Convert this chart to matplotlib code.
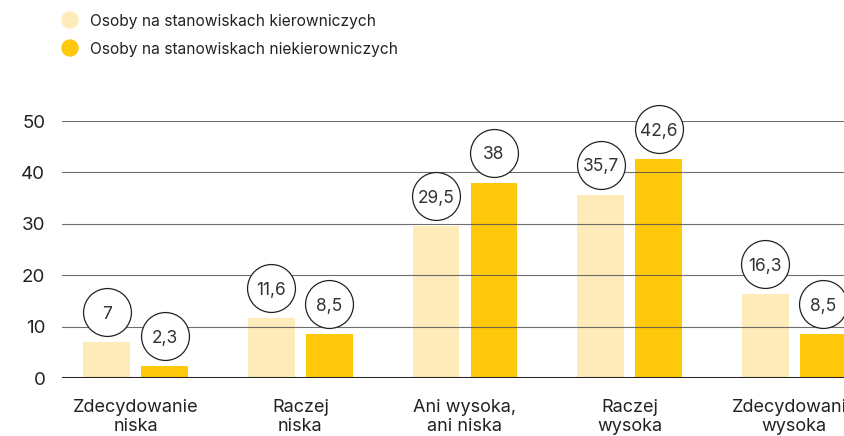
import matplotlib
matplotlib.use("Agg")
import matplotlib.pyplot as plt
from matplotlib.transforms import ScaledTranslation
import numpy as np

plt.rcParams['font.family'] = ['Inter', 'DejaVu Sans']

categories = ["Zdecydowanie\nniska", "Raczej\nniska", "Ani wysoka,\nani niska", "Raczej\nwysoka", "Zdecydowanie\nwysoka"]
series_names = ["Osoby na stanowiskach kierowniczych", "Osoby na stanowiskach niekierowniczych"]
kier = [7, 11.6, 29.5, 35.7, 16.3]
niekier = [2.3, 8.5, 38, 42.6, 8.5]
labels_kier = ["7", "11,6", "29,5", "35,7", "16,3"]
labels_niekier = ["2,3", "8,5", "38", "42,6", "8,5"]
yticks = [0, 10, 20, 30, 40, 50]

c_light = "#FDEBBA"
c_dark = "#FFC80A"

W, H = 845, 436
fig = plt.figure(figsize=(W/100, H/100), dpi=100)
left_px, right_px = 62, 868
bottom_px, top_px = 378, 121
ax = fig.add_axes([left_px/W, (H-bottom_px)/H, (right_px-left_px)/W, (bottom_px-top_px)/H])
ax.set_xlim(-0.448, 4 + 0.448)
ax.set_ylim(0, 50)

x = np.arange(len(categories))
bw = 0.285
off = 0.176
ax.bar(x - off, kier, width=bw, color=c_light, zorder=1)
ax.bar(x + off, niekier, width=bw, color=c_dark, zorder=1)

for t in yticks[1:]:
    ax.axhline(t, color="#555555", lw=0.8, zorder=2, alpha=0.85)
ax.axhline(0, color="#222222", lw=2.2, zorder=3)

for s in ax.spines.values():
    s.set_visible(False)
ax.set_yticks(yticks)
ax.set_yticklabels([str(t) for t in yticks], fontsize=13.5, color="#222222")
ax.tick_params(axis='y', length=0, pad=12)
ax.set_xticks(x)
ax.set_xticklabels(categories, fontsize=13, color="#222222", linespacing=1.2)
ax.tick_params(axis='x', length=0, pad=15)

shift = ScaledTranslation(0, 30/100, fig.dpi_scale_trans)
for xs, vals, labs in [(x - off, kier, labels_kier), (x + off, niekier, labels_niekier)]:
    for xi, v, lab in zip(xs, vals, labs):
        tr = ax.transData + shift
        ax.plot([xi], [v], marker='o', ms=34.5, mfc='white', mec='#222222', mew=0.9,
                transform=tr, clip_on=False, zorder=5)
        ax.text(xi, v, lab, transform=tr, ha='center', va='center_baseline', fontsize=12.5,
                color="#333333", zorder=6, clip_on=False)

for i, (name, col) in enumerate(zip(series_names, [c_light, c_dark])):
    yy = 1 - (20 + 28*i)/H
    fig.patches.append(matplotlib.patches.Ellipse((70/W, yy), 16/W, 16/H, color=col,
                                                  transform=fig.transFigure))
    fig.text(90/W, yy, name, fontsize=11.2, color="#222222", va='center_baseline', ha='left')

fig.savefig("out.png", dpi=100)
